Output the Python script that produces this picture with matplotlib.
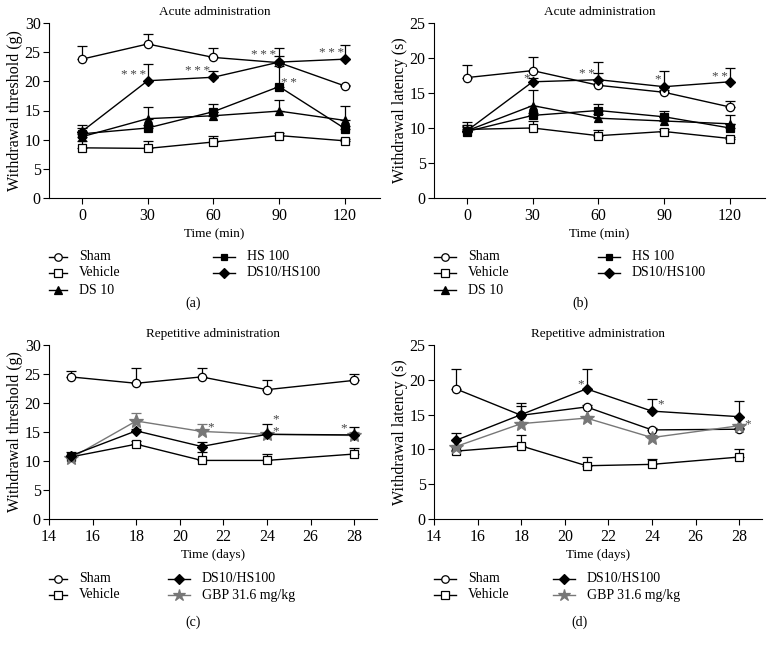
import matplotlib
matplotlib.use("Agg")
import matplotlib.pyplot as plt
from matplotlib.lines import Line2D
import numpy as np

plt.rcParams['font.family'] = ['Liberation Serif', 'DejaVu Serif']

# ---------- data ----------
t_acute = [0, 30, 60, 90, 120]
t_rep = [15, 18, 21, 24, 28]

# (a) withdrawal threshold, acute
a_sham = [23.8, 26.4, 24.1, 23.2, 19.2]
a_sham_err = [2.2, 1.7, 1.7, 1.1, 0.2]
a_vehicle = [8.6, 8.5, 9.6, 10.7, 9.8]
a_vehicle_err = [1.1, 1.3, 1.0, 0.4, 0.3]
a_ds10 = [10.5, 13.6, 14.1, 14.9, 13.3]
a_ds10_err = [0.9, 2.0, 0.7, 1.9, 2.5]
a_hs100 = [11.0, 12.0, 14.8, 19.1, 11.9]
a_hs100_err = [1.0, 0.5, 1.3, 3.6, 0.4]
a_dshs = [11.4, 20.1, 20.7, 23.3, 23.8]
a_dshs_err = [1.1, 2.8, 1.1, 2.5, 2.5]

# (b) withdrawal latency, acute
b_sham = [17.2, 18.2, 16.1, 15.1, 13.0]
b_sham_err = [1.8, 2.0, 1.8, 0.3, 0.9]
b_vehicle = [9.8, 10.0, 8.9, 9.5, 8.5]
b_vehicle_err = [0.5, 1.0, 0.8, 0.3, 0.2]
b_ds10 = [9.6, 13.2, 11.4, 11.0, 10.6]
b_ds10_err = [0.8, 2.3, 0.6, 0.6, 1.2]
b_hs100 = [9.5, 11.8, 12.5, 11.6, 10.0]
b_hs100_err = [0.6, 0.4, 1.0, 0.8, 0.6]
b_dshs = [9.6, 16.6, 16.9, 15.9, 16.6]
b_dshs_err = [1.2, 0.5, 2.6, 2.3, 2.0]

# (c) withdrawal threshold, repetitive
c_sham = [24.5, 23.4, 24.5, 22.3, 23.9]
c_sham_err = [1.1, 2.7, 1.5, 1.7, 1.1]
c_vehicle = [10.7, 12.9, 10.1, 10.1, 11.2]
c_vehicle_err = [0.3, 0.5, 1.5, 1.1, 1.1]
c_dshs = [10.9, 15.2, 12.5, 14.6, 14.5]
c_dshs_err = [0.6, 0.4, 0.8, 1.8, 1.4]
c_gbp = [10.5, 16.9, 15.1, 14.6, 14.4]
c_gbp_err = [0.3, 1.4, 1.3, 0.3, 0.6]

# (d) withdrawal latency, repetitive
d_sham = [18.7, 14.9, 16.1, 12.8, 12.9]
d_sham_err = [2.8, 1.4, 0.3, 0.3, 0.2]
d_vehicle = [9.75, 10.5, 7.65, 7.85, 8.9]
d_vehicle_err = [0.2, 1.5, 1.3, 0.7, 1.2]
d_dshs = [11.3, 15.0, 18.7, 15.5, 14.7]
d_dshs_err = [1.1, 1.7, 2.8, 1.7, 2.3]
d_gbp = [10.4, 13.7, 14.5, 11.7, 13.4]
d_gbp_err = [0.3, 0.3, 0.3, 0.3, 0.3]

# significance marks: (x, y, number of stars)
a_sig = [(23.5, 21.0, 3), (53, 21.7, 3), (83, 24.6, 3), (94.6, 19.8, 2), (114, 24.8, 3)]
b_sig = [(27.3, 17.15, 1), (54.7, 17.7, 2), (87, 16.9, 1), (115.5, 17.25, 2)]
c_sig = [(21.4, 15.75, 1), (24.4, 17.2, 1), (24.4, 15.2, 1), (27.5, 15.6, 1)]
d_sig = [(20.73, 19.4, 1), (24.4, 16.5, 1), (28.4, 13.65, 1)]

# ---------- styles ----------
GRAY = '#777777'
styles = {
    'Sham': dict(marker='o', mfc='white', mec='black', color='black', ms=6),
    'Vehicle': dict(marker='s', mfc='white', mec='black', color='black', ms=6),
    'DS 10': dict(marker='^', mfc='black', mec='black', color='black', ms=6),
    'HS 100': dict(marker='s', mfc='black', mec='black', color='black', ms=5.5),
    'DS10/HS100': dict(marker='D', mfc='black', mec='black', color='black', ms=5.5),
    'GBP 31.6 mg/kg': dict(marker='*', mfc=GRAY, mec=GRAY, color=GRAY, ms=10),
}

fig = plt.figure(figsize=(7.71, 6.48), dpi=100)
W, H = 771, 648


def ax_at(l, r, t, b):
    return fig.add_axes([l / W, 1 - b / H, (r - l) / W, (b - t) / H])


def draw_series(ax, x, y, err, name, z):
    st = styles[name]
    y = np.asarray(y, float)
    e = np.asarray(err, float)
    ax.errorbar(x, y, yerr=[np.zeros_like(e), e], fmt='none', ecolor=st['color'],
                elinewidth=0.9, capsize=3.5, capthick=0.9, zorder=z)
    ax.plot(x, y, color=st['color'], lw=1.0, marker=st['marker'], mfc=st['mfc'],
            mec=st['mec'], ms=st['ms'], mew=0.9, zorder=z + 0.5)


def style_ax(ax, xlim, xticks, ylim, yticks, ylabel, xlabel, title):
    ax.set_xlim(*xlim)
    ax.set_ylim(*ylim)
    ax.set_xticks(xticks)
    ax.set_yticks(yticks)
    for s in ['top', 'right']:
        ax.spines[s].set_visible(False)
    for s in ['left', 'bottom']:
        ax.spines[s].set_linewidth(0.8)
    ax.tick_params(direction='out', length=4, width=0.8, labelsize=11.5, pad=3)
    ax.tick_params(axis='y', pad=2)
    ax.set_ylabel(ylabel, fontsize=11.5, labelpad=1)
    ax.set_xlabel(xlabel, fontsize=9.5, labelpad=3)
    ax.set_title(title, fontsize=9.5, pad=6)


def add_sig(ax, sig):
    for x, y, n in sig:
        ax.text(x, y, '\u2009'.join(['*'] * n), ha='center', va='center',
                fontsize=9.5, color='#444444')


def add_legend(ax_x0, y_rows, cols, panel_label, label_y):
    for col_x, names in cols:
        for i, name in enumerate(names):
            st = styles[name]
            yy = 1 - y_rows[i] / H
            hl = 22 if col_x > 150 else 18
            line = Line2D([col_x / W, (col_x + hl) / W], [yy, yy], transform=fig.transFigure,
                          color=st['color'], lw=1.0)
            fig.add_artist(line)
            mk = Line2D([(col_x + hl / 2) / W], [yy], transform=fig.transFigure,
                        marker=st['marker'], mfc=st['mfc'], mec=st['mec'],
                        ms=st['ms'] * 0.9, mew=0.9, ls='none')
            fig.add_artist(mk)
            fig.text((col_x + hl + 12) / W, yy, name, ha='left', va='center', fontsize=10)
    fig.text(ax_x0 / W, 1 - label_y / H, panel_label, ha='center', va='center', fontsize=10)


# (a)
ax = ax_at(49, 380, 23, 198)
draw_series(ax, t_acute, a_vehicle, a_vehicle_err, 'Vehicle', 2)
draw_series(ax, t_acute, a_ds10, a_ds10_err, 'DS 10', 3)
draw_series(ax, t_acute, a_hs100, a_hs100_err, 'HS 100', 4)
draw_series(ax, t_acute, a_sham, a_sham_err, 'Sham', 5)
draw_series(ax, t_acute, a_dshs, a_dshs_err, 'DS10/HS100', 6)
style_ax(ax, (-15, 136), t_acute, (0, 30), range(0, 31, 5),
         'Withdrawal threshold (g)', 'Time (min)', 'Acute administration')
add_sig(ax, a_sig)

# (b)
ax = ax_at(434, 765, 23, 198)
draw_series(ax, t_acute, b_vehicle, b_vehicle_err, 'Vehicle', 2)
draw_series(ax, t_acute, b_ds10, b_ds10_err, 'DS 10', 3)
draw_series(ax, t_acute, b_hs100, b_hs100_err, 'HS 100', 4)
draw_series(ax, t_acute, b_sham, b_sham_err, 'Sham', 5)
draw_series(ax, t_acute, b_dshs, b_dshs_err, 'DS10/HS100', 6)
style_ax(ax, (-15, 136), t_acute, (0, 25), range(0, 26, 5),
         'Withdrawal latency (s)', 'Time (min)', 'Acute administration')
add_sig(ax, b_sig)

# (c)
ax = ax_at(49, 377, 345, 519)
draw_series(ax, t_rep, c_vehicle, c_vehicle_err, 'Vehicle', 2)
draw_series(ax, t_rep, c_sham, c_sham_err, 'Sham', 3)
draw_series(ax, t_rep, c_gbp, c_gbp_err, 'GBP 31.6 mg/kg', 4)
draw_series(ax, t_rep, c_dshs, c_dshs_err, 'DS10/HS100', 5)
style_ax(ax, (14, 29.05), range(14, 29, 2), (0, 30), range(0, 31, 5),
         'Withdrawal threshold (g)', 'Time (days)', 'Repetitive administration')
add_sig(ax, c_sig)

# (d)
ax = ax_at(434, 762, 345, 519)
draw_series(ax, t_rep, d_vehicle, d_vehicle_err, 'Vehicle', 2)
draw_series(ax, t_rep, d_sham, d_sham_err, 'Sham', 3)
draw_series(ax, t_rep, d_gbp, d_gbp_err, 'GBP 31.6 mg/kg', 4)
draw_series(ax, t_rep, d_dshs, d_dshs_err, 'DS10/HS100', 5)
style_ax(ax, (14, 29.05), range(14, 29, 2), (0, 25), range(0, 26, 5),
         'Withdrawal latency (s)', 'Time (days)', 'Repetitive administration')
add_sig(ax, d_sig)

# legends
add_legend(193, [257, 273, 290], [(49, ['Sham', 'Vehicle', 'DS 10']), (213, ['HS 100', 'DS10/HS100'])], '(a)', 303)
add_legend(580, [257, 273, 290], [(434, ['Sham', 'Vehicle', 'DS 10']), (598, ['HS 100', 'DS10/HS100'])], '(b)', 303)
add_legend(193, [579, 595], [(49, ['Sham', 'Vehicle']), (168, ['DS10/HS100', 'GBP 31.6 mg/kg'])], '(c)', 622)
add_legend(580, [579, 595], [(434, ['Sham', 'Vehicle']), (553, ['DS10/HS100', 'GBP 31.6 mg/kg'])], '(d)', 622)

fig.savefig('out.png', dpi=100)
